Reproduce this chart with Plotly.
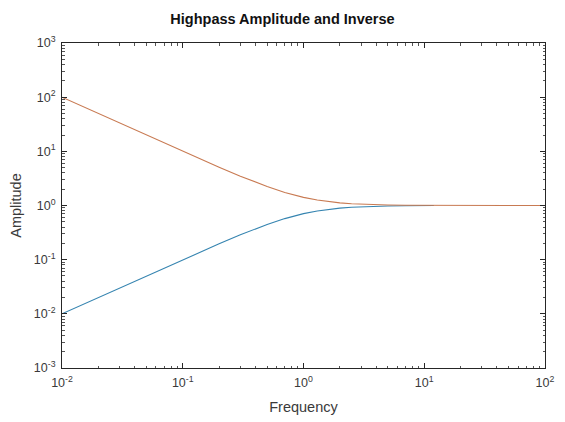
import plotly.graph_objects as go

# Values
freq_hp = [0.01, 0.015, 0.02, 0.03, 0.05, 0.07, 0.1, 0.15, 0.2, 0.3, 0.4, 0.5, 0.7,
           1.0, 1.3, 1.6, 2.0, 2.5, 3.0, 4.0, 5.0, 7.0, 10.0, 12.0]
amp_hp = [0.01, 0.015, 0.02, 0.03, 0.05, 0.0698, 0.0995, 0.148, 0.196, 0.287, 0.371,
          0.447, 0.573, 0.707, 0.793, 0.848, 0.894, 0.928, 0.949, 0.970, 0.981,
          0.990, 0.995, 0.997]

freq_inv = [0.01, 0.015, 0.02, 0.03, 0.05, 0.07, 0.1, 0.15, 0.2, 0.3, 0.4, 0.5, 0.7,
            1.0, 1.3, 1.6, 2.0, 2.5, 3.0, 4.0, 5.0, 7.0, 10.0, 20.0, 50.0, 100.0]
amp_inv = [100.0, 66.7, 50.0, 33.3, 20.0, 14.3, 10.05, 6.74, 5.10, 3.48, 2.69, 2.24,
           1.74, 1.414, 1.261, 1.179, 1.118, 1.077, 1.054, 1.031, 1.020, 1.010,
           1.005, 1.001, 1.0, 1.0]

x_tickvals = [0.01, 0.1, 1, 10, 100]
x_ticktext = ["10<sup>-2</sup>", "10<sup>-1</sup>", "10<sup>0</sup>", "10<sup>1</sup>", "10<sup>2</sup>"]
y_tickvals = [0.001, 0.01, 0.1, 1, 10, 100, 1000]
y_ticktext = ["10<sup>-3</sup>", "10<sup>-2</sup>", "10<sup>-1</sup>", "10<sup>0</sup>",
              "10<sup>1</sup>", "10<sup>2</sup>", "10<sup>3</sup>"]

x_minor = [m * d for d in [0.01, 0.1, 1, 10] for m in range(2, 10)]
y_minor = [m * d for d in [0.001, 0.01, 0.1, 1, 10, 100] for m in range(2, 10)]

FONT = "Liberation Sans, Arial, sans-serif"

fig = go.Figure()
fig.add_trace(go.Scatter(x=freq_hp, y=amp_hp, mode="lines",
                         line=dict(color="#3584b0", width=1.1), showlegend=False))
fig.add_trace(go.Scatter(x=freq_inv, y=amp_inv, mode="lines",
                         line=dict(color="#c87a52", width=1.1), showlegend=False))

axis_common = dict(
    type="log", showgrid=False, zeroline=False,
    showline=True, linecolor="#262626", linewidth=1, mirror="allticks",
    ticks="inside", ticklen=5, tickcolor="#262626",
    tickfont=dict(family=FONT, size=12.5, color="#3a3a3a"),
    ticklabelstandoff=3,
)

fig.update_layout(
    width=565, height=422,
    margin=dict(l=62, r=10, t=43, b=53),
    paper_bgcolor="white", plot_bgcolor="white",
    title=dict(text="<b>Highpass Amplitude and Inverse</b>", x=0.5, xanchor="center",
               y=1 - 19 / 422, yanchor="middle",
               font=dict(family=FONT, size=14.5, color="#111111")),
    xaxis=dict(axis_common, range=[-2, 2], tickvals=x_tickvals, ticktext=x_ticktext,
               minor=dict(tickvals=x_minor, ticks="inside", ticklen=2.5,
                          tickcolor="#555555", showgrid=False),
               title=dict(text="Frequency", standoff=12,
                          font=dict(family=FONT, size=14.5, color="#3a3a3a"))),
    yaxis=dict(axis_common, range=[-3, 3], tickvals=y_tickvals, ticktext=y_ticktext,
               minor=dict(tickvals=y_minor, ticks="inside", ticklen=2.5,
                          tickcolor="#555555", showgrid=False),
               title=dict(text="Amplitude", standoff=8,
                          font=dict(family=FONT, size=14.5, color="#3a3a3a"))),
)

fig.write_html("out.html")
